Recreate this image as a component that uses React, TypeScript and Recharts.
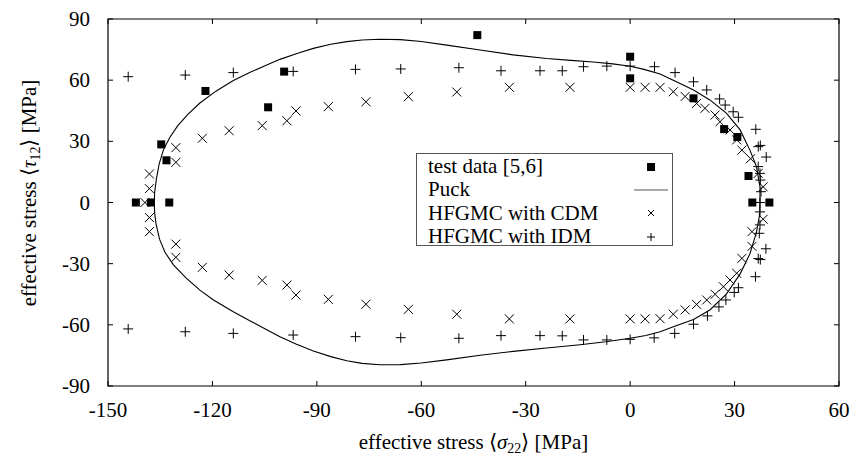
import React from "react";
import {
  ScatterChart,
  Scatter,
  XAxis,
  YAxis,
  ReferenceArea,
  Legend,
  Label,
} from "recharts";

// test data (filled squares)
const testData = [
  { x: -142.0, y: 0 },
  { x: -137.7, y: 0 },
  { x: -132.4, y: 0 },
  { x: -134.7, y: 28.5 },
  { x: -133.2, y: 20.7 },
  { x: -122.0, y: 54.7 },
  { x: -104.0, y: 46.7 },
  { x: -99.4, y: 64.2 },
  { x: -43.9, y: 82.1 },
  { x: 0, y: 71.5 },
  { x: 0, y: 60.9 },
  { x: 18.2, y: 51.1 },
  { x: 27.0, y: 36.0 },
  { x: 30.8, y: 32.1 },
  { x: 34.0, y: 13.0 },
  { x: 35.1, y: 0 },
  { x: 40.0, y: 0 },
];

// Puck failure envelope, traced round the loop
const puckCurve = [
  { x: 37.3, y: 0 }, { x: 37.3, y: 7.7 }, { x: 36.3, y: 17.6 }, { x: 34.4, y: 25.7 },
  { x: 31.6, y: 35.6 }, { x: 27.7, y: 43.7 }, { x: 22.9, y: 50.3 }, { x: 18.2, y: 55.2 },
  { x: 13.0, y: 59.5 }, { x: 8.6, y: 63.0 }, { x: 4.0, y: 65.3 }, { x: 0, y: 66.8 },
  { x: -5.0, y: 68.0 }, { x: -10.6, y: 68.9 }, { x: -17.0, y: 69.7 }, { x: -24.0, y: 70.6 },
  { x: -33.6, y: 72.4 }, { x: -43.1, y: 74.8 }, { x: -52.7, y: 77.2 }, { x: -60.0, y: 79.0 },
  { x: -66.0, y: 79.9 }, { x: -71.9, y: 80.1 }, { x: -77.0, y: 79.7 }, { x: -81.4, y: 78.9 },
  { x: -86.0, y: 77.6 }, { x: -91.0, y: 75.6 }, { x: -95.5, y: 73.2 }, { x: -100.6, y: 70.2 },
  { x: -104.4, y: 67.4 }, { x: -109.0, y: 64.0 }, { x: -114.0, y: 59.8 }, { x: -119.0, y: 54.6 },
  { x: -123.6, y: 48.8 }, { x: -127.2, y: 43.0 }, { x: -130.0, y: 37.6 }, { x: -132.3, y: 31.8 },
  { x: -134.1, y: 25.7 }, { x: -135.3, y: 19.0 }, { x: -136.1, y: 11.5 }, { x: -136.6, y: 5.0 },
  { x: -136.7, y: 0 }, { x: -136.6, y: -5.0 }, { x: -136.2, y: -10.5 }, { x: -135.2, y: -18.0 },
  { x: -133.6, y: -24.5 }, { x: -131.2, y: -30.6 }, { x: -127.6, y: -37.0 }, { x: -123.6, y: -43.0 },
  { x: -119.7, y: -47.8 }, { x: -114.0, y: -53.6 }, { x: -109.0, y: -58.2 }, { x: -104.4, y: -62.4 },
  { x: -100.6, y: -65.8 }, { x: -96.0, y: -69.4 }, { x: -91.0, y: -72.8 }, { x: -86.0, y: -75.6 },
  { x: -81.4, y: -77.6 }, { x: -77.0, y: -78.9 }, { x: -71.9, y: -79.6 }, { x: -66.0, y: -79.5 },
  { x: -60.0, y: -78.7 }, { x: -52.7, y: -77.2 }, { x: -43.1, y: -74.9 }, { x: -33.6, y: -73.0 },
  { x: -24.0, y: -71.4 }, { x: -14.4, y: -69.8 }, { x: -7.0, y: -68.3 }, { x: 0, y: -66.6 },
  { x: 4.5, y: -65.2 }, { x: 8.6, y: -63.4 }, { x: 13.0, y: -60.6 }, { x: 18.2, y: -57.4 },
  { x: 22.9, y: -52.7 }, { x: 27.7, y: -44.8 }, { x: 31.6, y: -35.0 }, { x: 34.4, y: -25.2 },
  { x: 36.3, y: -14.5 }, { x: 37.2, y: -6.0 }, { x: 37.3, y: 0 },
];

// HFGMC with CDM (x markers)
const cdmData = [
  { x: -138.1, y: 14.0 }, { x: -138.1, y: 6.8 }, { x: -139.4, y: 0 }, { x: -138.1, y: -7.4 },
  { x: -138.1, y: -14.3 }, { x: -130.5, y: 26.9 }, { x: -130.5, y: 19.7 }, { x: -130.5, y: -20.4 },
  { x: -130.5, y: -26.9 }, { x: -122.9, y: 31.5 }, { x: -115.2, y: 35.2 }, { x: -105.7, y: 37.7 },
  { x: -98.6, y: 40.1 }, { x: -96.0, y: 44.9 }, { x: -86.7, y: 47.0 }, { x: -75.9, y: 49.4 },
  { x: -63.7, y: 51.9 }, { x: -49.8, y: 54.2 }, { x: -34.7, y: 56.5 }, { x: -17.3, y: 56.5 },
  { x: 0, y: 56.5 }, { x: 4.3, y: 56.5 }, { x: 8.6, y: 56.5 }, { x: 12.4, y: 54.3 },
  { x: 15.8, y: 52.0 }, { x: 19.1, y: 48.6 }, { x: 21.5, y: 46.2 }, { x: 24.4, y: 42.9 },
  { x: 25.8, y: 39.6 }, { x: 28.7, y: 35.6 }, { x: 30.6, y: 30.7 }, { x: 32.1, y: 25.7 },
  { x: 34.6, y: 21.5 }, { x: 36.8, y: 14.3 }, { x: 38.2, y: 7.7 },
  { x: 38.2, y: -8.2 }, { x: 35.0, y: -14.3 }, { x: 35.0, y: -21.5 }, { x: 32.1, y: -27.4 },
  { x: 30.6, y: -34.7 }, { x: 28.7, y: -38.0 }, { x: 26.8, y: -41.3 }, { x: 24.4, y: -45.0 },
  { x: 22.0, y: -47.8 }, { x: 19.1, y: -50.0 }, { x: 15.8, y: -52.7 }, { x: 12.4, y: -54.8 },
  { x: 8.6, y: -57.0 }, { x: 4.3, y: -57.1 }, { x: 0, y: -57.1 }, { x: -17.3, y: -57.1 },
  { x: -34.7, y: -57.1 }, { x: -49.8, y: -54.8 }, { x: -63.7, y: -52.4 }, { x: -75.9, y: -49.9 },
  { x: -86.7, y: -47.5 }, { x: -96.0, y: -45.4 }, { x: -98.6, y: -40.5 }, { x: -105.7, y: -38.2 },
  { x: -115.2, y: -35.6 }, { x: -122.9, y: -31.8 },
];

// HFGMC with IDM (+ markers)
const idmData = [
  { x: -144.2, y: 61.7 }, { x: -127.8, y: 62.5 }, { x: -114.0, y: 63.7 }, { x: -96.8, y: 64.3 },
  { x: -78.9, y: 65.3 }, { x: -65.9, y: 65.5 }, { x: -49.2, y: 66.1 }, { x: -37.1, y: 64.6 },
  { x: -25.9, y: 64.6 }, { x: -19.5, y: 64.6 }, { x: -13.4, y: 66.6 }, { x: -6.7, y: 66.9 },
  { x: 0, y: 66.9 }, { x: 7.0, y: 66.6 }, { x: 12.9, y: 63.7 }, { x: 18.2, y: 59.2 },
  { x: 22.0, y: 55.2 }, { x: 25.7, y: 50.8 }, { x: 27.3, y: 47.8 }, { x: 29.6, y: 44.5 },
  { x: 31.1, y: 41.8 }, { x: 36.1, y: 35.9 }, { x: 36.8, y: 27.4 }, { x: 37.4, y: 28.0 },
  { x: 39.1, y: 22.3 }, { x: 36.8, y: 17.6 }, { x: 37.3, y: 14.3 }, { x: 37.4, y: 11.0 },
  { x: 37.6, y: 5.3 }, { x: 37.3, y: 0 }, { x: 37.3, y: -4.6 }, { x: 37.3, y: -11.0 },
  { x: 37.1, y: -15.1 }, { x: 39.0, y: -22.7 }, { x: 36.8, y: -27.5 }, { x: 37.4, y: -28.0 },
  { x: 36.0, y: -36.4 }, { x: 31.1, y: -41.8 }, { x: 29.9, y: -44.1 }, { x: 27.5, y: -47.8 },
  { x: 25.5, y: -51.2 }, { x: 22.2, y: -55.6 }, { x: 18.2, y: -59.7 }, { x: 12.8, y: -64.2 },
  { x: 6.9, y: -66.4 }, { x: 0, y: -67.1 }, { x: -6.7, y: -67.4 }, { x: -13.4, y: -67.4 },
  { x: -19.5, y: -65.4 }, { x: -25.9, y: -65.3 }, { x: -37.1, y: -65.3 }, { x: -49.2, y: -66.6 },
  { x: -65.9, y: -66.3 }, { x: -78.9, y: -65.8 }, { x: -96.8, y: -65.0 }, { x: -114.0, y: -64.2 },
  { x: -127.8, y: -63.4 }, { x: -144.2, y: -62.0 },
];

const xTicks = [-150, -120, -90, -60, -30, 0, 30, 60];
const yTicks = [-90, -60, -30, 0, 30, 60, 90];

const seriesNames = ["test data [5,6]", "Puck", "HFGMC with CDM", "HFGMC with IDM"];

const FONT = "'Liberation Serif', 'Times New Roman', serif";
const FS = 21;
const W = 852;
const H = 448;
const MARGIN = { top: 11, right: 21, left: 0, bottom: 30 };
const Y_AXIS_W = 100;
const X_AXIS_H = 40;
const PLOT_L = MARGIN.left + Y_AXIS_W;
const PLOT_R = W - MARGIN.right;
const PLOT_T = MARGIN.top;
const PLOT_B = H - MARGIN.bottom - X_AXIS_H;
const TL = 5;

const Square = (p: any) => (
  <rect x={p.cx - 4} y={p.cy - 4} width={8} height={8} fill="#000" />
);
const Cross = (p: any) => (
  <g stroke="#000" strokeWidth={1}>
    <line x1={p.cx - 4.5} y1={p.cy - 4.5} x2={p.cx + 4.5} y2={p.cy + 4.5} />
    <line x1={p.cx - 4.5} y1={p.cy + 4.5} x2={p.cx + 4.5} y2={p.cy - 4.5} />
  </g>
);
const Plus = (p: any) => (
  <g stroke="#000" strokeWidth={1}>
    <line x1={p.cx - 5} y1={p.cy} x2={p.cx + 5} y2={p.cy} />
    <line x1={p.cx} y1={p.cy - 5} x2={p.cx} y2={p.cy + 5} />
  </g>
);
const NoDot = () => <g />;

const XTick = (p: any) => {
  const { x, payload } = p;
  return (
    <g>
      <line x1={x} x2={x} y1={PLOT_B} y2={PLOT_B - TL} stroke="#000" />
      <line x1={x} x2={x} y1={PLOT_T} y2={PLOT_T + TL} stroke="#000" />
      <text x={x} y={PLOT_B + 31} textAnchor="middle" fontFamily={FONT} fontSize={FS} fill="#000">
        {String(payload.value)}
      </text>
    </g>
  );
};

const YTick = (p: any) => {
  const { y, payload } = p;
  return (
    <g>
      <line x1={PLOT_L} x2={PLOT_L + TL} y1={y} y2={y} stroke="#000" />
      <line x1={PLOT_R} x2={PLOT_R - TL} y1={y} y2={y} stroke="#000" />
      <text x={PLOT_L - 18} y={y} dy="0.34em" textAnchor="end" fontFamily={FONT} fontSize={FS} fill="#000">
        {String(payload.value)}
      </text>
    </g>
  );
};

const XTitle = () => (
  <text x={(PLOT_L + PLOT_R) / 2} y={441} textAnchor="middle" fontFamily={FONT} fontSize={FS} fill="#000">
    <tspan>effective stress ⟨</tspan>
    <tspan fontStyle="italic">σ</tspan>
    <tspan dy={4} fontSize={14}>22</tspan>
    <tspan dy={-4}>⟩ [MPa]</tspan>
  </text>
);

const YTitle = () => {
  const cx = 28;
  const cy = 185;
  return (
    <text
      x={cx}
      y={cy}
      transform={`rotate(-90, ${cx}, ${cy})`}
      textAnchor="middle"
      fontFamily={FONT}
      fontSize={FS}
      fill="#000"
    >
      <tspan>effective stress ⟨</tspan>
      <tspan fontStyle="italic">τ</tspan>
      <tspan dy={4} fontSize={14}>12</tspan>
      <tspan dy={-4}>⟩ [MPa]</tspan>
    </text>
  );
};

const legendSymbols = [
  <rect key="s" x={13} y={5} width={8} height={8} fill="#000" />,
  <line key="l" x1={0} x2={34} y1={9} y2={9} stroke="#555" strokeWidth={1.2} />,
  <g key="c" stroke="#000">
    <line x1={14} y1={6} x2={20} y2={12} />
    <line x1={14} y1={12} x2={20} y2={6} />
  </g>,
  <g key="p" stroke="#000">
    <line x1={13} y1={9} x2={21} y2={9} />
    <line x1={17} y1={5} x2={17} y2={13} />
  </g>,
];

const LegendBox = () => (
  <div
    style={{
      border: "1px solid #555",
      background: "#fff",
      width: 257,
      height: 93,
      boxSizing: "border-box",
      padding: "1px 0 0 11px",
      fontFamily: FONT,
      fontSize: FS,
      color: "#000",
    }}
  >
    {seriesNames.map((name, i) => (
      <div key={name} style={{ display: "flex", alignItems: "center", height: 23.4, lineHeight: "23.4px" }}>
        <span style={{ width: 206, whiteSpace: "nowrap" }}>{name}</span>
        <svg width={34} height={18}>
          {legendSymbols[i]}
        </svg>
      </div>
    ))}
  </div>
);

export default function App() {
  return (
    <ScatterChart width={W} height={H} margin={MARGIN}>
      <XAxis
        type="number"
        dataKey="x"
        domain={[-150, 60]}
        ticks={xTicks}
        axisLine={false}
        tickLine={false}
        tickSize={0}
        tickMargin={0}
        height={X_AXIS_H}
        tick={<XTick />}
        allowDataOverflow
      >
        <Label content={<XTitle />} />
      </XAxis>
      <YAxis
        type="number"
        dataKey="y"
        domain={[-90, 90]}
        ticks={yTicks}
        axisLine={false}
        tickLine={false}
        tickSize={0}
        tickMargin={0}
        width={Y_AXIS_W}
        tick={<YTick />}
        allowDataOverflow
      >
        <Label content={<YTitle />} />
      </YAxis>
      <ReferenceArea x1={-150} x2={60} y1={-90} y2={90} fill="none" stroke="#000" strokeWidth={1.2} />
      <Scatter
        name={seriesNames[1]}
        data={puckCurve}
        line={{ stroke: "#000", strokeWidth: 1.1 }}
        lineType="joint"
        shape={<NoDot />}
        isAnimationActive={false}
      />
      <Scatter name={seriesNames[2]} data={cdmData} shape={<Cross />} isAnimationActive={false} />
      <Scatter name={seriesNames[3]} data={idmData} shape={<Plus />} isAnimationActive={false} />
      <Scatter name={seriesNames[0]} data={testData} shape={<Square />} isAnimationActive={false} />
      <Legend
        layout="vertical"
        align="center"
        verticalAlign="middle"
        content={<LegendBox />}
        wrapperStyle={{ left: 408, top: 145, width: 257, height: 93 }}
      />
    </ScatterChart>
  );
}
